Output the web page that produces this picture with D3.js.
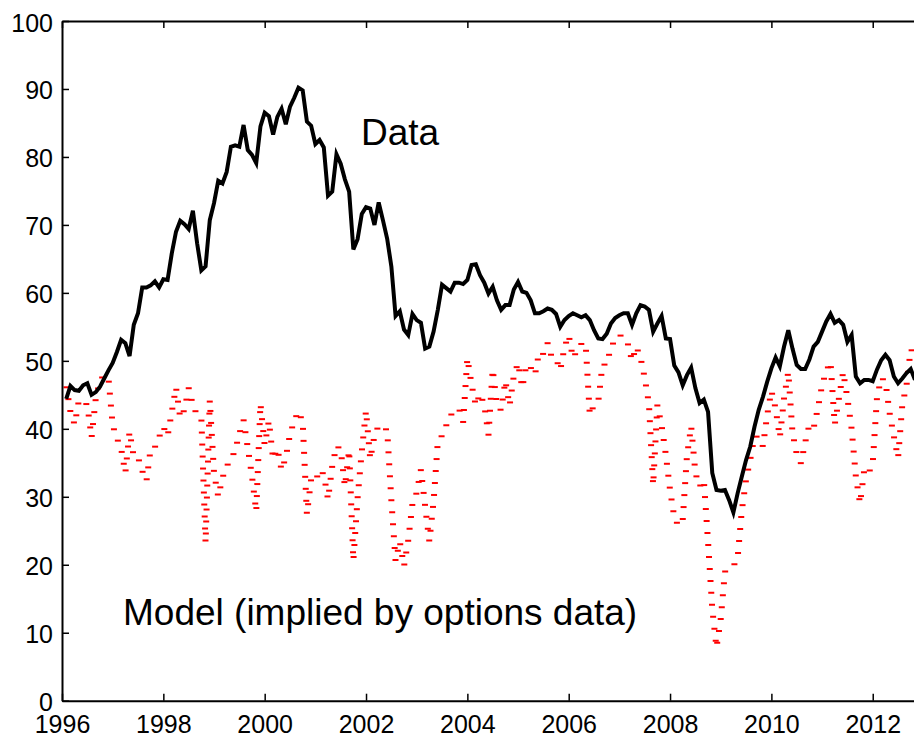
<!DOCTYPE html>
<html>
<head>
<meta charset="utf-8">
<script src="https://cdn.jsdelivr.net/npm/d3@7"></script>
<style>
  html, body { margin: 0; padding: 0; background: #fff; }
  svg { display: block; font-family: "Liberation Sans", Arial, Helvetica, sans-serif; }
</style>
</head>
<body>
<div id="chart"></div>
<script>
// monthly series, first point = end of Jan 1996
const startYear = 1996;
const xTicks = [1996, 1998, 2000, 2002, 2004, 2006, 2008, 2010, 2012];
const yTicks = [0, 10, 20, 30, 40, 50, 60, 70, 80, 90, 100];

const dataValues = [
  44.4, 46.3, 45.7, 45.6, 46.4, 46.7, 45.0, 45.4, 46.2, 47.4, 48.6, 49.7,
  51.3, 53.1, 52.6, 50.7, 55.3, 57.0, 60.8, 60.8, 61.1, 61.7, 60.8, 62.0,
  61.9, 65.8, 69.0, 70.6, 70.1, 69.4, 72.1, 67.3, 63.3, 63.9, 70.7, 73.2,
  76.5, 76.1, 77.8, 81.5, 81.7, 81.5, 84.7, 81.0, 80.3, 79.1, 84.5, 86.5,
  86.0, 83.3, 85.9, 87.1, 84.8, 87.4, 88.7, 90.2, 89.8, 85.2, 84.6, 81.9,
  82.5, 81.4, 74.3, 74.9, 80.4, 79.0, 76.7, 74.9, 66.4, 67.9, 71.6, 72.6,
  72.4, 70.0, 73.3, 70.7, 68.0, 63.9, 56.6, 57.3, 54.6, 53.8, 56.9, 56.0,
  55.6, 51.8, 52.1, 54.3, 57.5, 61.2, 60.7, 60.2, 61.5, 61.5, 61.3, 61.9,
  64.1, 64.2, 62.6, 61.5, 59.9, 60.9, 58.9, 57.5, 58.2, 58.2, 60.5, 61.6,
  60.2, 60.0, 58.9, 57.0, 57.0, 57.3, 57.7, 57.5, 56.9, 55.0, 56.0, 56.6,
  57.0, 56.7, 56.4, 56.7, 56.0, 54.5, 53.3, 53.2, 54.0, 55.5, 56.3, 56.7,
  57.0, 57.0, 55.3, 57.0, 58.2, 58.0, 57.5, 54.3, 55.5, 56.6, 53.3, 53.2,
  49.3, 48.3, 46.4, 47.9, 49.0, 46.0, 43.8, 44.3, 42.5, 33.5, 31.0, 30.9,
  31.0, 29.5, 27.7, 30.5, 33.0, 35.4, 37.4, 40.3, 42.8, 44.7, 46.9, 48.9,
  50.5, 49.2, 52.1, 54.5, 51.8, 49.4, 48.8, 48.8, 50.2, 52.1, 52.8, 54.3,
  55.8, 56.9, 55.6, 56.0, 55.3, 52.8, 53.8, 47.7, 46.7, 47.2, 47.2, 47.0,
  48.7, 50.1, 50.9, 50.1, 47.7, 46.7, 47.4, 48.2, 48.8, 47.2
];

const modelValues = [
  46.4, 42.5, 40.6, 44.2, 44.1, 43.5, 38.7, 44.5, 47.2, 47.9, 47.5, 40.5,
  38.6, 37.1, 33.5, 39.6, 35.9, 35.8, 33.8, 32.3, 37.1, 37.3, 38.8, 40.3,
  38.9, 42.5, 46.1, 41.6, 42.8, 46.0, 43.5, 42.0, 41.6, 23.2, 44.2, 33.5,
  30.0, 32.8, 34.5, 35.5, 36.8, 39.3, 41.3, 37.2, 33.0, 27.8, 43.7, 37.6,
  41.2, 35.5, 37.1, 33.9, 35.8, 39.2, 41.2, 42.6, 41.0, 27.4, 32.6, 32.2,
  34.0, 33.3, 29.6, 34.5, 37.5, 37.0, 31.5, 36.9, 20.6, 29.8, 36.7, 42.7,
  35.5, 39.0, 40.5, 40.0, 39.9, 29.5, 20.5, 23.4, 19.8, 23.6, 29.0, 30.6,
  34.0, 28.6, 23.4, 29.3, 38.1, 39.0, 40.5, 42.0, 42.5, 43.0, 41.0, 50.4,
  46.5, 43.4, 45.2, 43.5, 39.1, 48.8, 43.5, 42.7, 47.1, 43.4, 47.8, 49.7,
  46.0, 49.5, 49.0, 47.9, 51.3, 51.0, 52.6, 50.5, 50.3, 48.6, 52.0, 53.8,
  50.4, 51.5, 52.5, 52.6, 42.0, 43.5, 44.0, 49.4, 49.5, 52.0, 53.1, 53.8,
  53.5, 52.5, 50.0, 52.1, 50.5, 47.5, 43.7, 31.7, 43.5, 40.5, 36.2, 31.0,
  27.0, 25.7, 26.6, 36.0, 40.4, 33.5, 31.5, 32.5, 23.4, 13.5, 7.8, 12.0,
  19.0, 19.4, 19.8, 21.0, 28.0, 32.5, 35.5, 38.9, 38.8, 37.4, 42.0, 45.6,
  43.0, 38.7, 44.5, 48.4, 39.4, 36.3, 34.9, 38.0, 40.6, 40.1, 43.0, 46.4,
  48.5, 49.9, 40.6, 44.5, 48.4, 44.5, 40.0, 33.0, 29.0, 34.0, 33.4, 35.0,
  44.5, 47.5, 47.0, 42.3, 38.9, 35.7, 43.5, 46.4, 51.7, 51.0
];

const dataLabel = "Data";
const modelLabel = "Model (implied by options data)";

const width = 914, height = 740;
const plotLeft = 62, plotTop = 21, plotBottom = 700.7;

const months = dataValues.map((d, i) => startYear + (i + 1) / 12);

const x = d3.scaleLinear().domain([1996, 2013]).range([plotLeft, 923.4]);
const y = d3.scaleLinear().domain([0, 100]).range([plotBottom, plotTop]);

const svg = d3.select("#chart")
  .append("svg")
  .attr("width", width)
  .attr("height", height);

svg.append("rect").attr("width", width).attr("height", height).attr("fill", "#fff");

svg.append("clipPath").attr("id", "plotclip")
  .append("rect")
  .attr("x", plotLeft).attr("y", plotTop)
  .attr("width", width - plotLeft).attr("height", plotBottom - plotTop);

const plot = svg.append("g").attr("clip-path", "url(#plotclip)");

// model: dotted line, drawn as short horizontal dashes along the path
const modelLine = d3.line().x((d, i) => x(months[i])).y(d => y(d));
const guide = plot.append("path")
  .attr("d", modelLine(modelValues))
  .attr("fill", "none")
  .attr("stroke", "none");
const len = guide.node().getTotalLength();
const pts = d3.range(2, len, 12).map(l => guide.node().getPointAtLength(l));
plot.selectAll("line.dash")
  .data(pts)
  .join("line")
  .attr("class", "dash")
  .attr("x1", p => p.x - 3)
  .attr("x2", p => p.x + 3)
  .attr("y1", p => p.y)
  .attr("y2", p => p.y)
  .attr("stroke", "#ff0000")
  .attr("stroke-width", 2);

// data: thick black line
const dataLine = d3.line().x((d, i) => x(months[i])).y(d => y(d));
plot.append("path")
  .attr("d", dataLine(dataValues))
  .attr("fill", "none")
  .attr("stroke", "#000")
  .attr("stroke-width", 4)
  .attr("stroke-linejoin", "miter");

// axes
const axisStyle = g => {
  g.select(".domain").attr("stroke", "#000").attr("stroke-width", 2);
  g.selectAll(".tick line").attr("stroke", "#000").attr("stroke-width", 1.5);
  g.selectAll(".tick text").attr("fill", "#000").attr("font-size", 25)
    .attr("font-family", "'Liberation Sans', Arial, Helvetica, sans-serif");
};

svg.append("g")
  .attr("transform", `translate(0,${plotBottom})`)
  .call(d3.axisBottom(x).tickValues(xTicks).tickFormat(d3.format("d"))
    .tickSizeInner(-7).tickSizeOuter(0).tickPadding(14.5))
  .call(axisStyle);

svg.append("g")
  .attr("transform", `translate(0,${plotTop})`)
  .call(d3.axisTop(x).tickValues(xTicks).tickFormat("")
    .tickSizeInner(-7).tickSizeOuter(0))
  .call(axisStyle);

svg.append("g")
  .attr("transform", `translate(${plotLeft},0)`)
  .call(d3.axisLeft(y).tickValues(yTicks).tickFormat(d3.format("d"))
    .tickSizeInner(-7).tickSizeOuter(0).tickPadding(9))
  .call(axisStyle)
  .call(g => g.selectAll(".tick text").attr("dy", "0.4em"));

// labels
svg.append("text")
  .attr("x", 361)
  .attr("y", 145)
  .attr("font-size", 37)
  .attr("fill", "#000")
  .text(dataLabel);

svg.append("text")
  .attr("x", 123)
  .attr("y", 625)
  .attr("font-size", 37)
  .attr("fill", "#000")
  .text(modelLabel);
</script>
</body>
</html>
